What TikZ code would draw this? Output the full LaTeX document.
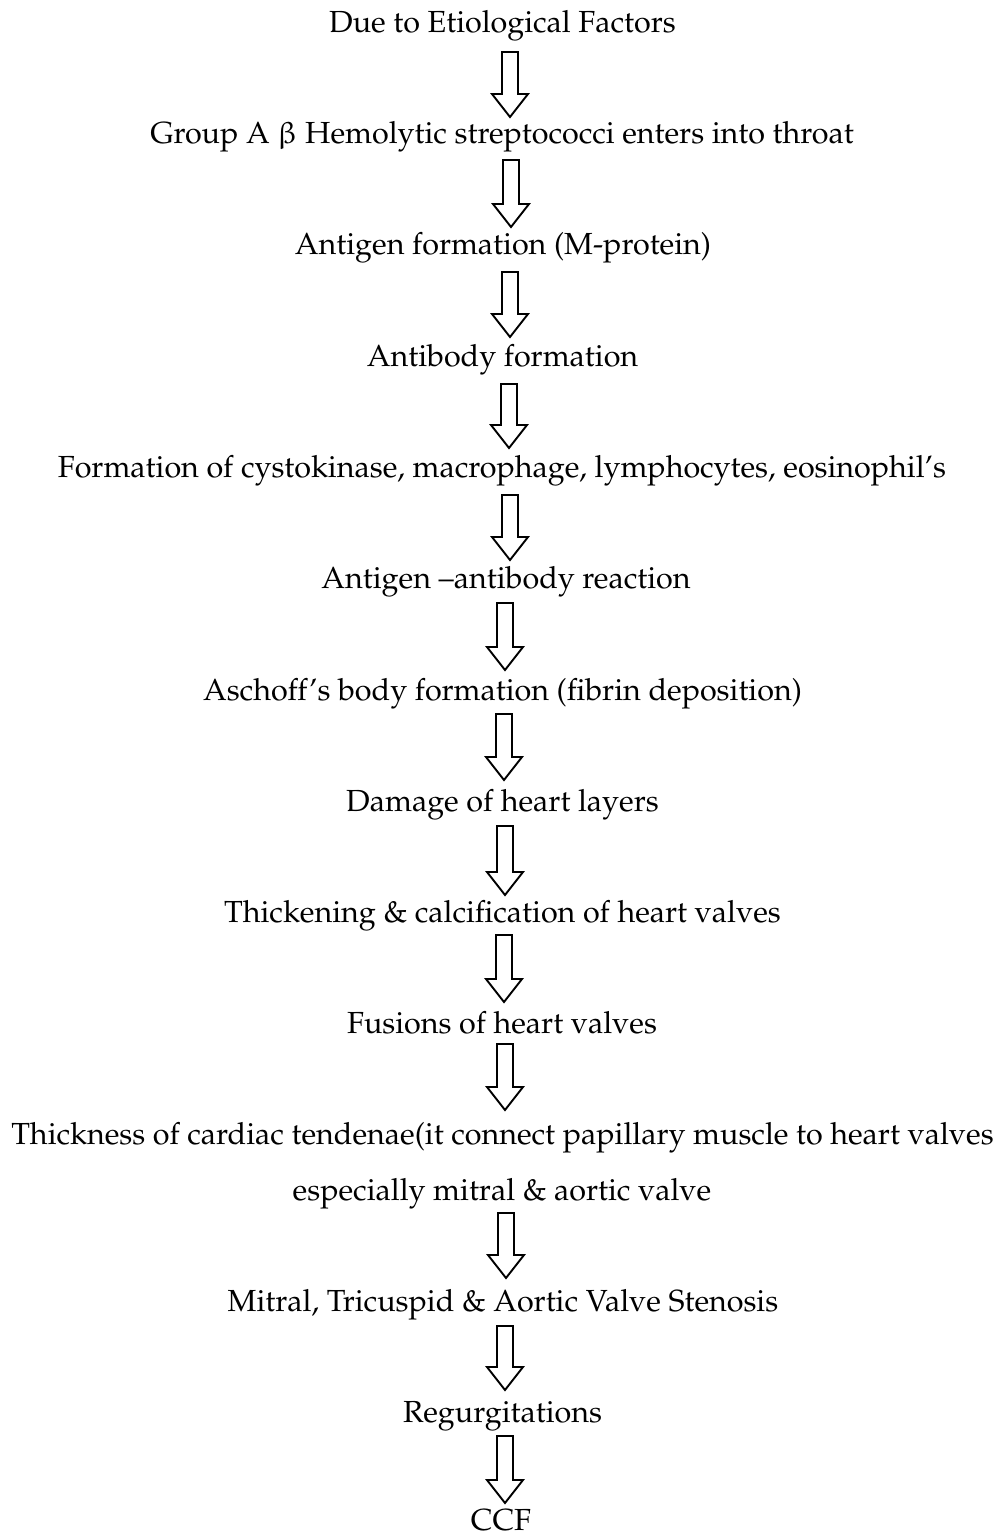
\documentclass[tikz,border=0pt]{standalone}
\usepackage[T1]{fontenc}
\usepackage{mathpazo}
\usepackage{upgreek}
\usetikzlibrary{calc}
\tikzset{
  lbl/.style={inner sep=0pt, anchor=base, font=\fontsize{30.5}{36}\selectfont},
  blk/.style={draw=black, line width=1.9pt, fill=white, line join=miter}
}
\newcommand{\blkarrow}[4]{% name, x, ytop, ybottom
  \coordinate (#1) at (#2,#3);
  \draw[blk] ($(#1)+(-8,0)$) -- ($(#1)+(8,0)$) -- (#2+8,#4-23) -- (#2+18,#4-23) -- (#2,#4) -- (#2-18,#4-23) -- (#2-8,#4-23) -- cycle;}
\begin{document}
\begin{tikzpicture}[x=1pt,y=-1pt]
\useasboundingbox (0,0) rectangle (998,1534);
\node[lbl] (t1) at (502.5,32) {Due to Etiological Factors};
\node[lbl] (t2) at (502,143) {Group A $\upbeta$ Hemolytic streptococci enters into throat};
\node[lbl] (t3) at (503,254) {Antigen formation (M-protein)};
\node[lbl] (t4) at (502.5,366) {Antibody formation};
\node[lbl] (t5) at (502,477) {Formation of cystokinase, macrophage, lymphocytes, eosinophil's};
\node[lbl] (t6) at (506,588) {Antigen --antibody reaction};
\node[lbl] (t7) at (502.5,700) {Aschoff's body formation (fibrin deposition)};
\node[lbl] (t8) at (502.5,811) {Damage of heart layers};
\node[lbl] (t9) at (502.5,922) {Thickening \& calcification of heart valves};
\node[lbl] (t10) at (502,1033) {Fusions of heart valves};
\node[lbl] (t11) at (502.5,1144) {Thickness of cardiac tendenae(it connect papillary muscle to heart valves};
\node[lbl] (t12) at (502,1200) {especially mitral \& aortic valve};
\node[lbl] (t13) at (503,1311) {Mitral, Tricuspid \& Aortic Valve Stenosis};
\node[lbl] (t14) at (502.5,1422) {Regurgitations};
\node[lbl] (t15) at (501,1530) {CCF};
\blkarrow{a1}{510}{52}{117}
\blkarrow{a2}{511}{160}{227}
\blkarrow{a3}{510}{272}{337}
\blkarrow{a4}{509}{384}{448}
\blkarrow{a5}{510}{495}{560}
\blkarrow{a6}{505}{603}{670}
\blkarrow{a7}{504}{714}{780}
\blkarrow{a8}{505}{826}{895}
\blkarrow{a9}{504}{935}{1002}
\blkarrow{a10}{505}{1044}{1110}
\blkarrow{a11}{506}{1213}{1278}
\blkarrow{a12}{505}{1326}{1390}
\blkarrow{a13}{505}{1436}{1503}
\end{tikzpicture}
\end{document}
